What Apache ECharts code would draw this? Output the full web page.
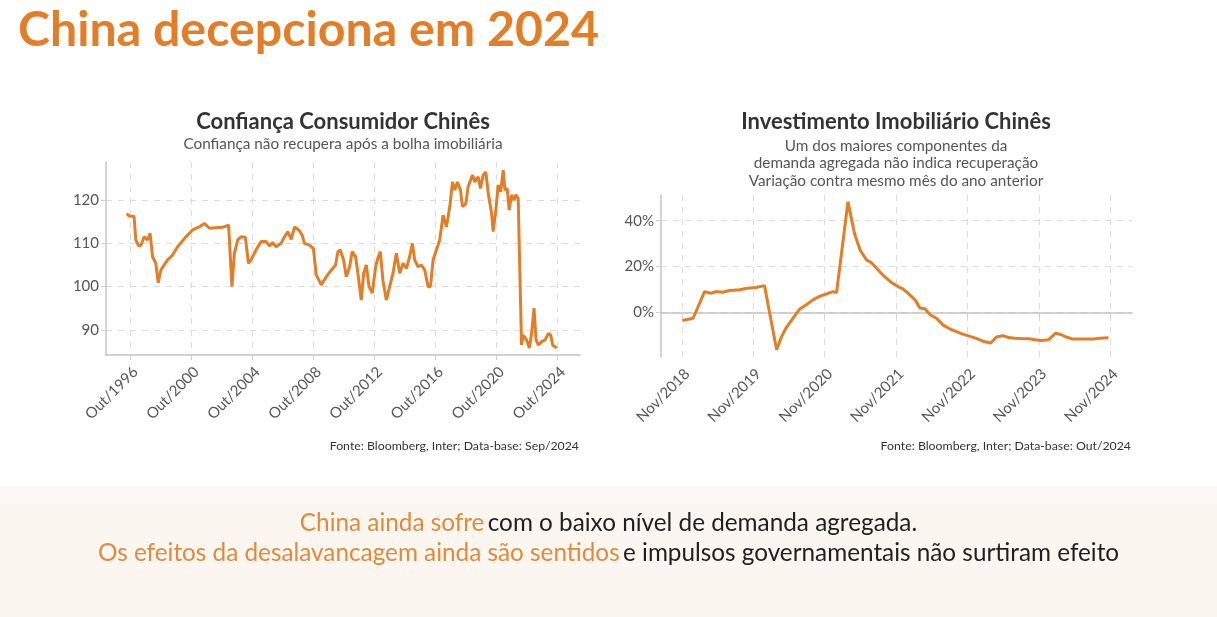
<!DOCTYPE html>
<html>
<head>
<meta charset="utf-8">
<script src="https://cdn.jsdelivr.net/npm/echarts@6/dist/echarts.min.js"></script>
<style>
html,body{margin:0;padding:0;background:#fff;}
#c{width:1217px;height:617px;}
</style>
</head>
<body>
<div id="c"></div>
<script>
// ---- Confiança Consumidor Chinês (decimal year, index) ----
const ccYears = [1996.53,1996.68,1997.01,1997.12,1997.30,1997.45,1997.67,1997.89,1998.06,1998.22,1998.43,1998.59,1998.76,1998.98,1999.20,1999.53,1999.86,2000.40,2000.84,2001.28,2001.61,2001.94,2002.37,2002.81,2003.20,2003.42,2003.58,2003.80,2004.01,2004.30,2004.50,2004.67,2005.00,2005.33,2005.66,2005.87,2006.09,2006.31,2006.64,2006.86,2007.08,2007.30,2007.52,2007.80,2008.02,2008.17,2008.50,2008.76,2008.94,2009.27,2009.60,2009.92,2010.21,2010.36,2010.51,2010.73,2010.91,2011.13,2011.30,2011.52,2011.67,2011.89,2012.05,2012.22,2012.40,2012.61,2012.83,2013.01,2013.14,2013.31,2013.53,2013.75,2013.97,2014.19,2014.41,2014.63,2014.85,2015.06,2015.24,2015.39,2015.61,2015.83,2016.05,2016.27,2016.42,2016.60,2016.82,2017.03,2017.25,2017.47,2017.69,2017.87,2018.02,2018.19,2018.39,2018.52,2018.74,2018.89,2019.18,2019.33,2019.55,2019.70,2019.88,2020.05,2020.21,2020.43,2020.53,2020.71,2020.86,2021.02,2021.19,2021.30,2021.45,2021.58,2021.74,2021.89,2022.02,2022.17,2022.39,2022.50,2022.72,2022.90,2023.05,2023.21,2023.34,2023.49,2023.71,2023.93,2024.15,2024.30,2024.43,2024.69];
const ccValues = [116.9,116.3,116.2,110.8,109.5,109.5,111.5,110.8,112.3,106.9,105.4,100.9,103.8,105.0,106.2,107.3,109.2,111.5,113.1,113.8,114.6,113.5,113.6,113.7,114.2,100.0,107.7,110.8,111.5,111.4,105.4,106.2,108.5,110.4,110.4,109.4,110.2,109.2,110.0,111.5,112.7,110.9,113.8,113.1,111.9,110.0,109.6,108.8,102.7,100.4,102.3,103.8,105.0,108.1,108.5,106.2,102.3,104.6,108.1,106.9,103.1,96.9,103.1,105.0,100.0,98.5,104.6,106.9,108.1,101.5,96.9,100.0,103.1,107.7,103.1,105.4,104.2,106.9,110.0,106.2,104.6,105.0,103.8,100.0,100.0,106.2,108.5,110.8,116.5,113.8,118.5,124.2,122.3,124.2,122.3,118.5,119.2,123.1,125.8,124.2,125.4,122.7,125.8,126.5,121.5,116.9,112.7,117.7,123.5,121.9,126.9,122.3,122.7,117.7,121.2,120.0,121.2,120.4,86.5,88.8,87.7,85.8,89.2,95.0,87.7,86.5,87.3,87.7,89.2,88.8,86.5,85.8];
const ccTickYears = [1996,2000,2004,2008,2012,2016,2020,2024];
const ccYTicks = [90,100,110,120];

// ---- Investimento Imobiliário Chinês (decimal year, % YoY) ----
const reYears = [2018.84,2018.99,2019.15,2019.24,2019.31,2019.40,2019.50,2019.64,2019.75,2019.87,2019.99,2020.16,2020.22,2020.29,2020.39,2020.48,2020.57,2020.67,2020.76,2020.85,2020.95,2021.00,2021.16,2021.25,2021.33,2021.42,2021.49,2021.58,2021.67,2021.77,2021.86,2021.93,2022.00,2022.10,2022.17,2022.24,2022.31,2022.40,2022.49,2022.59,2022.68,2022.77,2022.87,2022.96,2023.05,2023.16,2023.24,2023.33,2023.41,2023.50,2023.59,2023.69,2023.78,2023.87,2023.97,2024.07,2024.15,2024.22,2024.31,2024.41,2024.50,2024.60,2024.69,2024.81];
const reValues = [-3.5,-2.5,9.1,8.4,9.1,8.8,9.6,9.9,10.6,10.9,11.7,-16.2,-11.2,-6.8,-2.5,1.4,3.3,5.5,7.0,8.0,9.1,8.7,48.3,34.5,27.2,22.9,21.7,18.6,15.7,13.0,11.3,10.3,8.4,5.5,1.9,1.6,-1.0,-2.5,-5.4,-7.2,-8.3,-9.4,-10.4,-11.3,-12.5,-13.3,-10.7,-10.1,-10.9,-11.2,-11.3,-11.4,-11.9,-12.2,-11.9,-9.0,-9.7,-10.7,-11.6,-11.6,-11.6,-11.6,-11.2,-11.0];
const reTickYears = [2018,2019,2020,2021,2022,2023,2024];
const reYTicks = [0,20,40];

const ORANGE = '#E37E27';
const FONT = 'Lato';

const ccData = ccYears.map((x, i) => [x, ccValues[i]]);
const reData = reYears.map((x, i) => [x, reValues[i]]);
const ccTickPos = ccTickYears.map(y => y + 9 / 12);
const reTickPos = reTickYears.map(y => y + 10 / 12);

function xAxisBase(idx, min, max, ticks, prefix, offset) {
  return {
    type: 'value', gridIndex: idx, min: min, max: max,
    axisLine: {show: true, lineStyle: {color: '#c4c4c4', width: 1.5}},
    axisTick: {show: true, length: 5, lineStyle: {color: '#d0d0d0'}, customValues: ticks},
    axisLabel: {
      customValues: ticks, rotate: 45, margin: 9, verticalAlign: 'top',
      color: '#555', fontFamily: FONT, fontSize: 15,
      formatter: v => prefix + Math.round(v - offset)
    },
    splitLine: {show: true, lineStyle: {color: '#dcdcdc', type: [6, 6], width: 1}}
  };
}
function yAxisBase(idx, min, max, ticks, suffix) {
  return {
    type: 'value', gridIndex: idx, min: min, max: max,
    axisLine: {show: true, lineStyle: {color: '#c4c4c4', width: 1.5}},
    axisTick: {show: true, length: 5, lineStyle: {color: '#d0d0d0'}, customValues: ticks},
    axisLabel: {customValues: ticks, color: '#555', fontFamily: FONT, fontSize: 15, margin: 7,
      formatter: v => v + suffix},
    splitLine: {show: true, lineStyle: {color: '#dcdcdc', type: [6, 6], width: 1}}
  };
}

const chart = echarts.init(document.getElementById('c'), null, {renderer: 'canvas'});
chart.setOption({
  backgroundColor: '#ffffff',
  animation: false,
  graphic: [
    {type: 'rect', left: 0, top: 486, z: -10, shape: {width: 1217, height: 131},
     style: {fill: new echarts.graphic.LinearGradient(0, 0, 0, 1, [
       {offset: 0, color: '#FCF9F5'}, {offset: 0.2, color: '#FBF6EF'}, {offset: 1, color: '#FBF6F0'}])}},
    {type: 'text', left: 18, top: 6,
     style: {text: 'China decepciona em 2024', fill: ORANGE, font: 'bold 48.3px Lato'}},
    {type: 'text', left: 'center', top: 511,
     style: {text: '{o|China ainda sofre} {k|com o baixo nível de demanda agregada.}',
       rich: {o: {fill: '#E08A3C', fontFamily: FONT, fontSize: 24.3},
              k: {fill: '#1f1f1f', fontFamily: FONT, fontSize: 24.3}}}},
    {type: 'text', left: 'center', top: 541,
     style: {text: '{o|Os efeitos da desalavancagem ainda são sentidos} {k|e impulsos governamentais não surtiram efeito}',
       rich: {o: {fill: '#E08A3C', fontFamily: FONT, fontSize: 24.3},
              k: {fill: '#1f1f1f', fontFamily: FONT, fontSize: 24.3}}}},
    {type: 'text', right: 1217 - 579, top: 440,
     style: {text: 'Fonte: Bloomberg, Inter; Data-base: Sep/2024', fill: '#333', font: '12.3px Lato'}},
    {type: 'text', right: 1217 - 1131, top: 440,
     style: {text: 'Fonte: Bloomberg, Inter; Data-base: Out/2024', fill: '#333', font: '12.3px Lato'}}
  ],
  title: [
    {text: 'Confiança Consumidor Chinês', subtext: 'Confiança não recupera após a bolha imobiliária',
     left: 338, top: 106, textAlign: 'center', itemGap: 4,
     textStyle: {fontFamily: FONT, fontSize: 22, fontWeight: 'bold', color: '#333'},
     subtextStyle: {fontFamily: FONT, fontSize: 15.3, color: '#555'}},
    {text: 'Investimento Imobiliário Chinês',
     subtext: 'Um dos maiores componentes da\ndemanda agregada não indica recuperação\nVariação contra mesmo mês do ano anterior',
     left: 891, top: 106, textAlign: 'center', itemGap: 4,
     textStyle: {fontFamily: FONT, fontSize: 22, fontWeight: 'bold', color: '#333'},
     subtextStyle: {fontFamily: FONT, fontSize: 15.3, color: '#555', lineHeight: 17.5}}
  ],
  grid: [
    {left: 106, right: 1217 - 580, top: 162, bottom: 617 - 355},
    {left: 661, right: 1217 - 1132, top: 195, bottom: 617 - 357}
  ],
  xAxis: [
    xAxisBase(0, 1995.17, 2026.22, ccTickPos, 'Out/', 0.75),
    xAxisBase(1, 2018.54, 2025.14, reTickPos, 'Nov/', 10 / 12)
  ],
  yAxis: [
    yAxisBase(0, 84.2, 128.8, ccYTicks, ''),
    yAxisBase(1, -19.4, 51.2, reYTicks, '%')
  ],
  series: [
    {type: 'line', xAxisIndex: 0, yAxisIndex: 0, data: ccData, showSymbol: false,
     lineStyle: {color: ORANGE, width: 3}, itemStyle: {color: ORANGE}},
    {type: 'line', xAxisIndex: 1, yAxisIndex: 1, data: reData, showSymbol: false,
     lineStyle: {color: ORANGE, width: 3}, itemStyle: {color: ORANGE}}
  ]
});
</script>
</body>
</html>
